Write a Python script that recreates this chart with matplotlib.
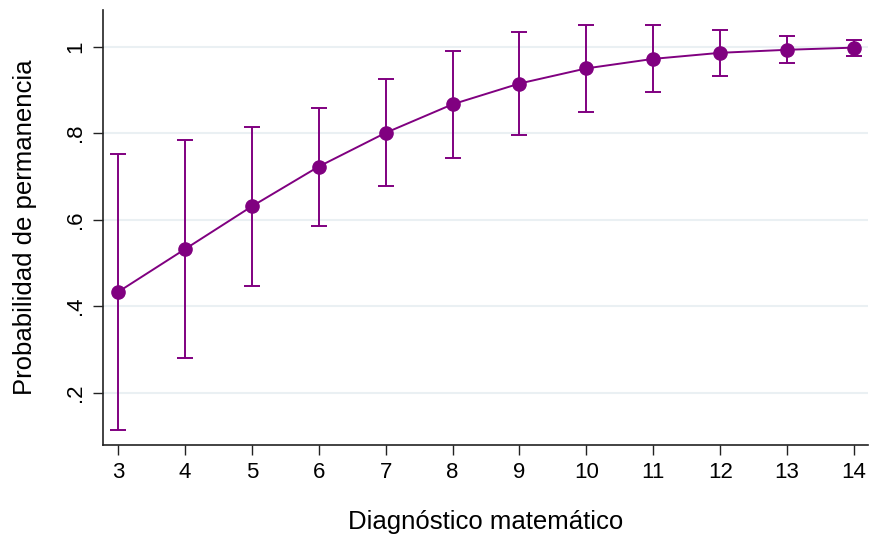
import matplotlib.pyplot as plt

# Data
diagnostico = [3, 4, 5, 6, 7, 8, 9, 10, 11, 12, 13, 14]
prob = [0.433, 0.532, 0.631, 0.723, 0.801, 0.867, 0.915, 0.950, 0.972, 0.986, 0.993, 0.998]
upper = [0.752, 0.784, 0.815, 0.859, 0.925, 0.990, 1.033, 1.051, 1.050, 1.039, 1.026, 1.015]
lower = [0.113, 0.280, 0.447, 0.585, 0.679, 0.743, 0.797, 0.848, 0.895, 0.933, 0.962, 0.979]
yticks = [0.2, 0.4, 0.6, 0.8, 1.0]
ytick_labels = ['.2', '.4', '.6', '.8', '1']

plt.rcParams['font.family'] = ['Liberation Sans', 'DejaVu Sans']

color = '#800080'
fig = plt.figure(figsize=(8.69, 5.35), dpi=100)
ax = fig.add_axes([0.1182, 0.1682, 0.8807, 0.8131])

yerr = [[p - l for p, l in zip(prob, lower)], [u - p for p, u in zip(prob, upper)]]
ax.errorbar(diagnostico, prob, yerr=yerr, color=color, marker='o', markersize=9.5,
            linewidth=1.4, elinewidth=1.4, capsize=6, capthick=1.4, zorder=3)

ax.set_xlim(2.77, 14.21)
ax.set_ylim(0.079, 1.085)
ax.set_xticks(diagnostico)
ax.set_yticks(yticks)
ax.set_yticklabels(ytick_labels, rotation=90, va='center')
ax.grid(axis='y', color='#eaf0f3', linewidth=1.5, zorder=0)
ax.set_axisbelow(True)

for side in ['top', 'right']:
    ax.spines[side].set_visible(False)
for side in ['left', 'bottom']:
    ax.spines[side].set_linewidth(1.2)
    ax.spines[side].set_color('#222222')

ax.tick_params(axis='both', direction='out', length=7, width=1, color='#222222',
               labelsize=16, pad=5)
ax.set_xlabel('Diagnóstico matemático', fontsize=18.5, labelpad=20)
ax.set_ylabel('Probabilidad de permanencia', fontsize=18.5, labelpad=20)

fig.savefig('out.png', dpi=100)
